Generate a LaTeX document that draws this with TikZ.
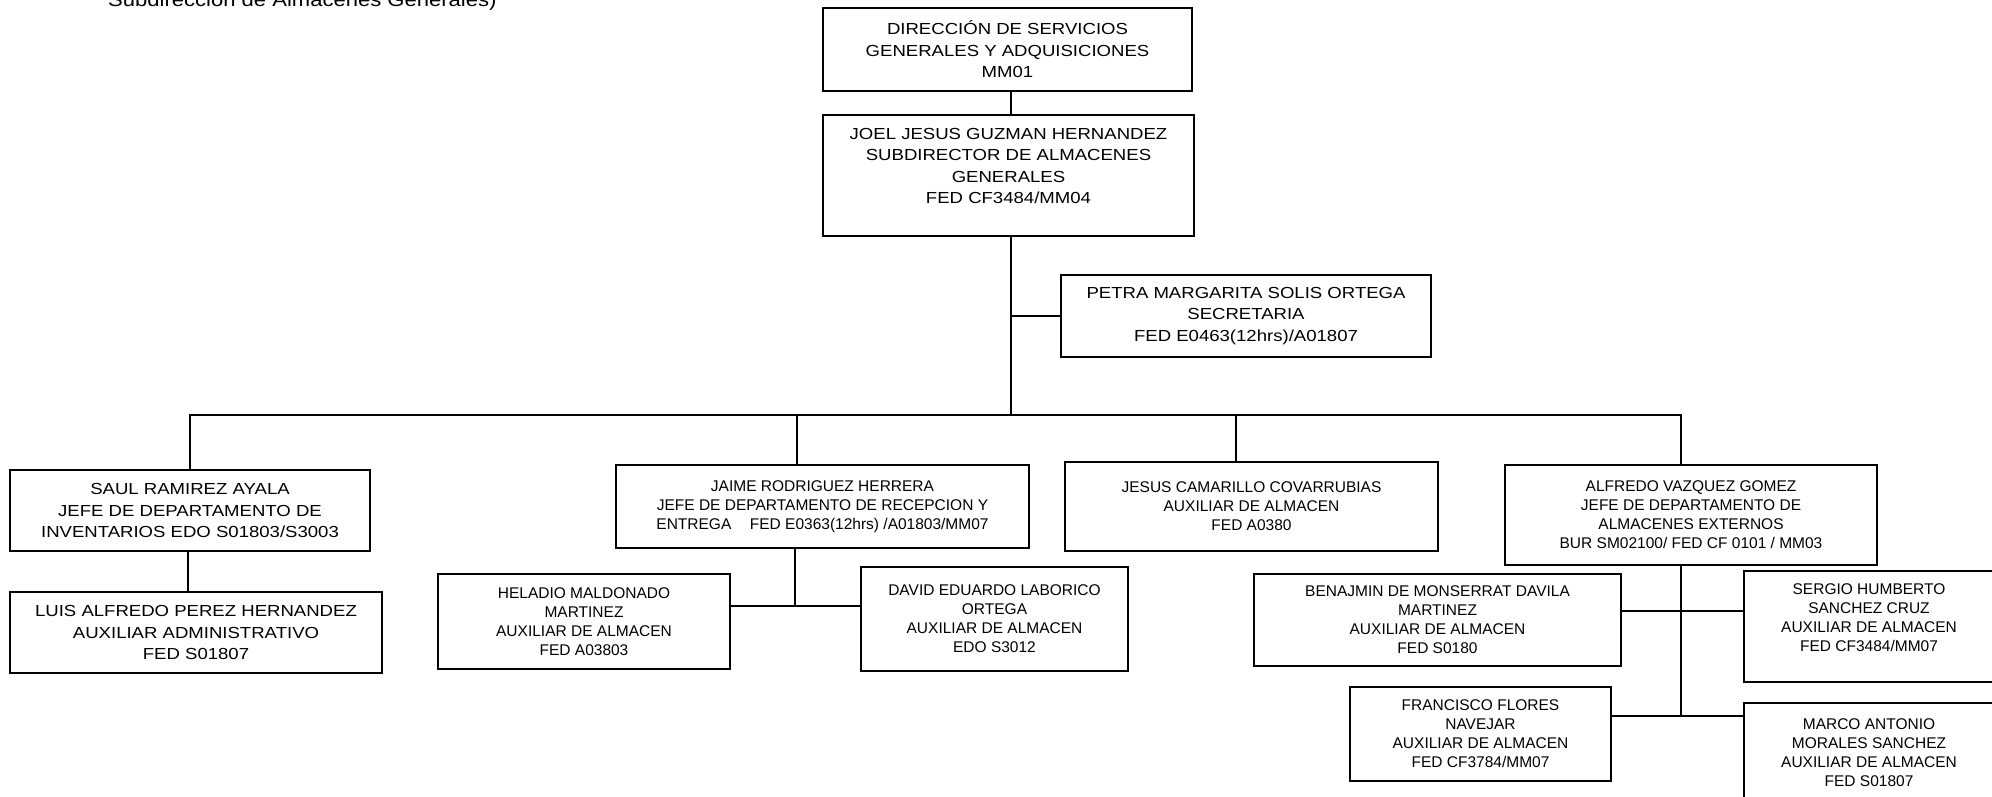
\documentclass[tikz,border=0pt]{standalone}
\usepackage{fontspec}
\setmainfont{Liberation Sans}
\newfontfamily\widesans{Liberation Sans}[FakeStretch=1.16]
\usetikzlibrary{positioning,calc}

\begin{document}
\begin{tikzpicture}[
    x=1pt, y=-1pt,
    box/.style={rectangle, draw, line width=1.2pt, align=center, inner sep=0pt, font=\fontsize{15.5}{19}\selectfont},
    widebox/.style={box, font=\widesans\fontsize{16}{21.6}\selectfont},
    link/.style={line width=1.8pt},
    thinlink/.style={line width=1.1pt},
]
    \useasboundingbox (0,0) rectangle (1992,796);
    \fill[white] (0,0) rectangle (1992,796);
    \clip (0,0) rectangle (1992,796);

    % cut-off heading
    \node[anchor=base west, inner sep=0pt, font=\widesans\fontsize{19}{23}\selectfont] (title) at (108,6) {Subdirección de Almacenes Generales)};

    % top of the chart
    \node[widebox, minimum width=369, minimum height=83] (dir) at (1007.5,49.5) {DIRECCIÓN DE SERVICIOS\\GENERALES Y ADQUISICIONES\\MM01};
    \node[widebox, minimum width=371, minimum height=121, text depth=19pt] (joel) at (1008.5,175.5) {JOEL JESUS GUZMAN HERNANDEZ\\SUBDIRECTOR DE ALMACENES\\GENERALES\\FED CF3484/MM04};
    \node[widebox, minimum width=370, minimum height=82] (petra) at (1246,316) {PETRA MARGARITA SOLIS ORTEGA\\SECRETARIA\\FED E0463(12hrs)/A01807};

    % departments
    \node[widebox, minimum width=360, minimum height=81] (saul) at (190,510.5) {SAUL RAMIREZ AYALA\\JEFE DE DEPARTAMENTO DE\\INVENTARIOS EDO S01803/S3003};
    \node[widebox, minimum width=372, minimum height=81] (luis) at (196,632.5) {LUIS ALFREDO PEREZ HERNANDEZ\\AUXILIAR ADMINISTRATIVO\\FED S01807};
    \node[box, minimum width=413, minimum height=83] (jaime) at (822.5,506.5) {JAIME RODRIGUEZ HERRERA\\JEFE DE DEPARTAMENTO DE RECEPCION Y\\ENTREGA\hspace{1.2em}FED E0363(12hrs) /A01803/MM07};
    \node[box, minimum width=292, minimum height=95] (heladio) at (584,621.5) {HELADIO MALDONADO\\MARTINEZ\\AUXILIAR DE ALMACEN\\FED A03803};
    \node[box, minimum width=267, minimum height=104] (david) at (994.5,619) {DAVID EDUARDO LABORICO\\ORTEGA\\AUXILIAR DE ALMACEN\\EDO S3012};
    \node[box, minimum width=373, minimum height=89] (jesus) at (1251.5,506.5) {JESUS CAMARILLO COVARRUBIAS\\AUXILIAR DE ALMACEN\\FED A0380};
    \node[box, minimum width=372, minimum height=100] (alfredo) at (1691,515) {ALFREDO VAZQUEZ GOMEZ\\JEFE DE DEPARTAMENTO DE\\ALMACENES EXTERNOS\\BUR SM02100/ FED CF 0101 / MM03};
    \node[box, minimum width=367, minimum height=92] (benjamin) at (1437.5,620) {BENAJMIN DE MONSERRAT DAVILA\\MARTINEZ\\AUXILIAR DE ALMACEN\\FED S0180};
    \node[box, minimum width=250, minimum height=111, text depth=18pt] (sergio) at (1869,626.5) {SERGIO HUMBERTO\\SANCHEZ CRUZ\\AUXILIAR DE ALMACEN\\FED CF3484/MM07};
    \node[box, minimum width=261, minimum height=94] (francisco) at (1480.5,734) {FRANCISCO FLORES\\NAVEJAR\\AUXILIAR DE ALMACEN\\FED CF3784/MM07};
    \node[box, minimum width=250, minimum height=99] (marco) at (1869,752.5) {MARCO ANTONIO\\MORALES SANCHEZ\\AUXILIAR DE ALMACEN\\FED S01807};

    % connectors
    \coordinate (trunk) at (1011,415);
    \coordinate (jdrop) at (797,415);
    \coordinate (cdrop) at (1236,415);
    \coordinate (adrop) at (1681,415);
    \coordinate (jfork) at (795,606);
    \coordinate (aup) at (1681,611);
    \coordinate (afork) at (1681,716);

    \draw[link] (dir.south -| trunk) -- (joel.north -| trunk);
    \draw[link] (joel.south -| trunk) -- (trunk);
    \draw[link] (trunk |- petra.west) -- (petra.west);
    \draw[link] (saul.north) |- (adrop) -- (adrop |- alfredo.north);
    \draw[link] (jdrop) -- (jdrop |- jaime.north);
    \draw[link] (cdrop) -- (cdrop |- jesus.north);
    \draw[link] ([xshift=-2pt]saul.south) -- ([xshift=-2pt]saul.south |- luis.north);
    \draw[link] (jfork |- jaime.south) -- (jfork);
    \draw[thinlink] (heladio.east |- jfork) -- (david.west |- jfork);
    \draw[link] (afork |- alfredo.south) -- (afork);
    \draw[thinlink] (benjamin.east |- aup) -- (sergio.west |- aup);
    \draw[thinlink] (francisco.east |- afork) -- (marco.west |- afork);
\end{tikzpicture}
\end{document}
